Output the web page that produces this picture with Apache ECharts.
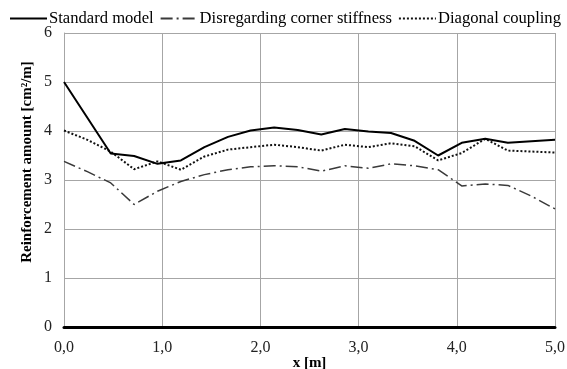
<!DOCTYPE html>
<html><head><meta charset="utf-8">
<script src="https://cdn.jsdelivr.net/npm/echarts@6/dist/echarts.min.js"></script>
<style>html,body{margin:0;padding:0;background:#fff}#c{width:567px;height:369px}</style>
</head><body><div id="c"></div>
<script>
const xPositions = [0, 0.238, 0.476, 0.714, 0.952, 1.19, 1.43, 1.67, 1.90, 2.14, 2.38, 2.62, 2.86, 3.10, 3.33, 3.57, 3.81, 4.05, 4.29, 4.52, 4.76, 5.0];
const standardModel = [5.0, 4.27, 3.54, 3.49, 3.33, 3.40, 3.67, 3.88, 4.01, 4.07, 4.02, 3.93, 4.04, 3.99, 3.96, 3.80, 3.50, 3.76, 3.84, 3.76, 3.79, 3.82];
const disregardingCorner = [3.38, 3.17, 2.94, 2.50, 2.77, 2.97, 3.11, 3.21, 3.27, 3.29, 3.27, 3.18, 3.29, 3.24, 3.33, 3.29, 3.21, 2.88, 2.92, 2.89, 2.67, 2.41];
const diagonalCoupling = [4.01, 3.82, 3.58, 3.22, 3.38, 3.21, 3.48, 3.62, 3.67, 3.72, 3.67, 3.60, 3.72, 3.67, 3.75, 3.69, 3.40, 3.55, 3.84, 3.60, 3.58, 3.56];
const seriesNames = ['Standard model', 'Disregarding corner stiffness', 'Diagonal coupling'];

const pair = arr => arr.map((v, i) => [xPositions[i], v]);
const font = 'Liberation Serif, Times New Roman, serif';
const chart = echarts.init(document.getElementById('c'), null, {renderer: 'canvas'});
chart.setOption({
  animation: false,
  textStyle: {fontFamily: font},
  grid: {left: 64, right: 12, top: 33, bottom: 42, containLabel: false, outerBoundsMode: 'none'},
  legend: {
    left: 4, top: 5, width: 700, itemWidth: 37, itemHeight: 14, itemGap: 6,
    itemStyle: {opacity: 0},
    textStyle: {fontFamily: font, fontSize: 16.6, color: '#000', padding: [0, 0, 0, -3]},
    data: seriesNames
  },
  xAxis: {
    type: 'value', min: 0, max: 5, interval: 1,
    name: 'x [m]', nameLocation: 'middle', nameGap: 29, nameMoveOverlap: false,
    nameTextStyle: {fontFamily: font, fontSize: 15, fontWeight: 'bold', color: '#000'},
    axisLine: {show: true, onZero: false, lineStyle: {color: '#000', width: 3}},
    axisTick: {show: false},
    axisLabel: {fontFamily: font, fontSize: 16, color: '#222', margin: 13,
      formatter: v => v.toFixed(1).replace('.', ',')},
    splitLine: {show: true, lineStyle: {color: '#a6a6a6', width: 1}}
  },
  yAxis: {
    type: 'value', min: 0, max: 6, interval: 1,
    name: 'Reinforcement amount [cm²/m]', nameLocation: 'middle', nameGap: 29, nameMoveOverlap: false,
    nameTextStyle: {fontFamily: font, fontSize: 15, fontWeight: 'bold', color: '#000', padding: [0, 0, 0, 36]},
    axisLine: {show: true, lineStyle: {color: '#a6a6a6', width: 1}},
    axisTick: {show: false},
    axisLabel: {fontFamily: font, fontSize: 16, color: '#222', margin: 12},
    splitLine: {show: true, lineStyle: {color: '#a6a6a6', width: 1}}
  },
  series: [
    {name: seriesNames[0], type: 'line', data: pair(standardModel), symbol: 'none', z: 5,
     lineStyle: {color: '#000', width: 2, type: 'solid'}, itemStyle: {color: '#000'}},
    {name: seriesNames[1], type: 'line', data: pair(disregardingCorner), symbol: 'none', z: 3,
     lineStyle: {color: '#3a3a3a', width: 1.5, type: [12, 4, 2, 4]}, itemStyle: {color: '#3a3a3a'}},
    {name: seriesNames[2], type: 'line', data: pair(diagonalCoupling), symbol: 'none', z: 4,
     lineStyle: {color: '#111', width: 2, type: [2, 2]}, itemStyle: {color: '#111'}}
  ]
});
</script></body></html>
